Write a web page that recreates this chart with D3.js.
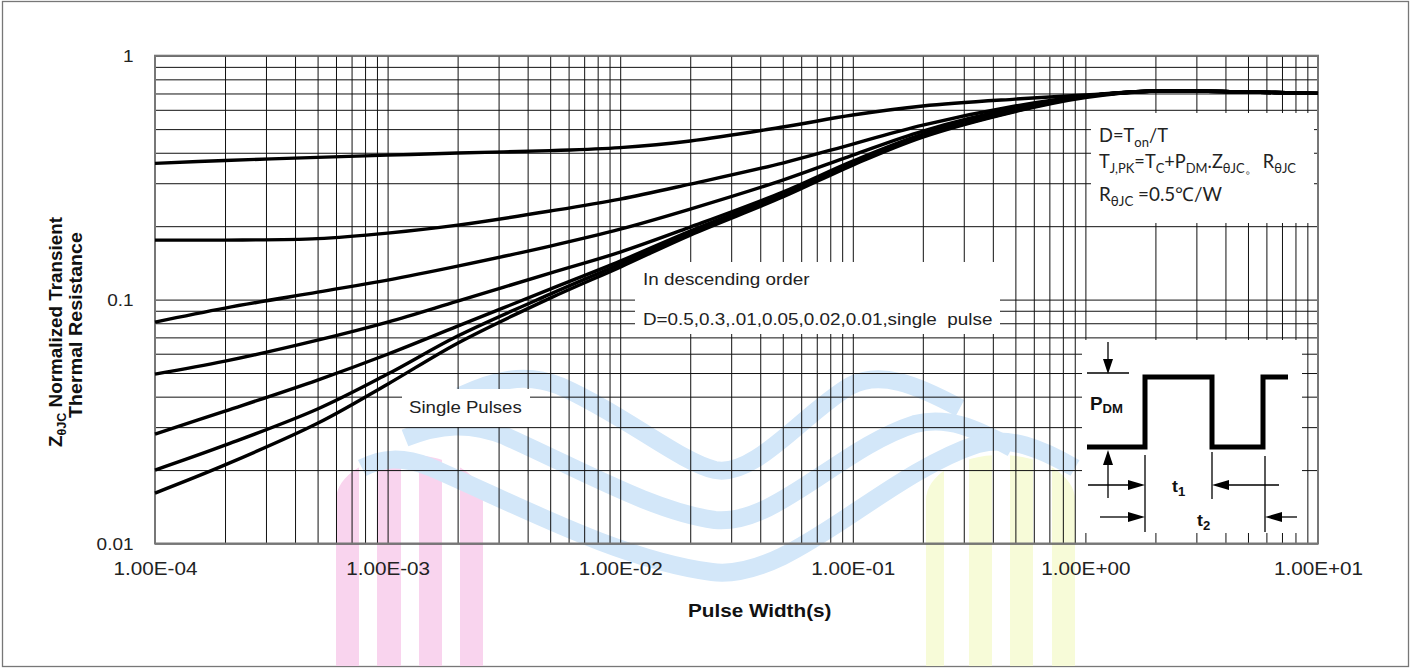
<!DOCTYPE html>
<html>
<head>
<meta charset="utf-8">
<script src="https://cdn.jsdelivr.net/npm/d3@7"></script>
<style>
  body { margin: 0; background: #fff; }
  svg { display: block; }
</style>
</head>
<body>
<svg id="chart" width="1413" height="669"></svg>
<script>
// Pulse widths (s) at which the curves are sampled
const pulseWidth = [1e-4, 2e-4, 5e-4, 1e-3, 2e-3, 5e-3, 1e-2, 2e-2, 5e-2, 1e-1, 2e-1, 5e-1, 1, 2, 5, 10];
// Normalized transient thermal resistance, one series per duty cycle
const zD050 = [0.362, 0.372, 0.383, 0.391, 0.399, 0.408, 0.420, 0.447, 0.510, 0.571, 0.622, 0.664, 0.690, 0.7165, 0.7096, 0.701];
const zD030 = [0.1754, 0.1754, 0.1779, 0.1874, 0.2020, 0.2307, 0.2583, 0.2976, 0.3630, 0.4344, 0.5196, 0.6217, 0.6835, 0.7165, 0.7096, 0.701];
const zD010 = [0.0809, 0.0923, 0.1073, 0.1202, 0.1372, 0.1658, 0.1945, 0.2351, 0.3091, 0.3914, 0.4911, 0.6103, 0.6803, 0.7165, 0.7096, 0.701];
const zD005 = [0.0495, 0.0559, 0.0682, 0.0809, 0.0986, 0.1284, 0.1566, 0.1983, 0.2760, 0.3699, 0.4773, 0.5988, 0.6803, 0.7165, 0.7096, 0.701];
const zD002 = [0.0281, 0.0349, 0.0468, 0.0597, 0.0778, 0.1104, 0.1438, 0.1910, 0.2708, 0.3630, 0.4728, 0.5960, 0.6803, 0.7165, 0.7096, 0.701];
const zD001 = [0.0200, 0.0253, 0.0356, 0.0495, 0.0709, 0.1053, 0.1398, 0.1874, 0.2683, 0.3596, 0.4684, 0.5932, 0.6803, 0.7165, 0.7096, 0.701];
const zSingle = [0.0161, 0.0210, 0.0311, 0.0450, 0.0663, 0.1014, 0.1359, 0.1838, 0.2633, 0.3561, 0.4638, 0.5904, 0.6740, 0.7165, 0.7096, 0.701];
const dutyLabels = ["0.5", "0.3", "0.1", "0.05", "0.02", "0.01", "single pulse"];
const allSeries = [zD050, zD030, zD010, zD005, zD002, zD001, zSingle];

// Axis ticks
const xTickValues = [1e-4, 1e-3, 1e-2, 1e-1, 1, 10];
const yTickValues = [0.01, 0.1, 1];
const yTickLabels = ["0.01", "0.1", "1"];

const svg = d3.select("#chart");
const SX = 1.15;   // horizontal text stretch used throughout the sheet
const L = 155, R = 1318, T = 55.7, B = 543.5;

const x = d3.scaleLog().domain([1e-4, 10]).range([L, R]);
const y = d3.scaleLog().domain([0.01, 1]).range([B, T]);

// ---------- outer frame ----------
svg.append("rect").attr("x", 2.5).attr("y", 1.5).attr("width", 1406).attr("height", 665)
  .attr("fill", "#fff").attr("stroke", "#777").attr("stroke-width", 1.3);

// ---------- background logo ----------
const logo = svg.append("g").attr("class", "logo");
const defs = svg.append("defs");
function archStripes(id, x0, x1, top, color, stripes) {
  const rx = (x1 - x0) / 2, ry = 45;
  defs.append("clipPath").attr("id", id).append("path")
    .attr("d", `M${x0},666 V${top + ry} A${rx},${ry} 0 0 1 ${x1},${top + ry} V666 Z`);
  logo.append("g").attr("clip-path", `url(#${id})`)
    .selectAll("rect").data(stripes).join("rect")
    .attr("x", d => d[0]).attr("y", top - 2)
    .attr("width", d => d[1] - d[0]).attr("height", 670 - top)
    .attr("fill", color);
}
archStripes("archPink", 336, 483, 455, "#f9d4ee", [[336, 359], [377, 401], [419, 442], [460, 483]]);
archStripes("archYellow", 926, 1075, 455, "#f7fbd8", [[926, 944], [969, 992], [1010, 1033], [1052, 1075]]);
const waveColor = "#d3e7f9";
[
  "M460,396 C495,380 525,372 560,386 C625,415 680,462 715,470 C755,478 805,412 850,386 C880,370 915,384 960,408",
  "M405,438 C440,424 470,422 505,436 C585,472 655,512 715,520 C775,526 840,448 915,424 C948,416 975,428 1012,448",
  "M362,468 C382,458 402,456 430,467 C520,506 620,560 712,572 C790,582 880,476 978,444 C1010,436 1040,448 1075,468"
].forEach(d => logo.append("path").attr("d", d).attr("fill", "none")
  .attr("stroke", waveColor).attr("stroke-width", 18).attr("stroke-linecap", "butt"));

// ---------- grid ----------
const minorX = [];
for (let e = -4; e <= 0; e++) for (let m = 1; m <= 9; m++) minorX.push(+(m * Math.pow(10, e)).toPrecision(3));
minorX.push(10);
const minorY = [];
for (let e = -2; e <= -1; e++) for (let m = 1; m <= 9; m++) minorY.push(+(m * Math.pow(10, e)).toPrecision(3));
minorY.push(1);

const gridX = svg.append("g").attr("transform", `translate(0,${B})`)
  .call(d3.axisBottom(x).tickValues(minorX).tickSize(-(B - T)).tickFormat(""));
const gridY = svg.append("g").attr("transform", `translate(${L},0)`)
  .call(d3.axisLeft(y).tickValues(minorY).tickSize(-(R - L)).tickFormat(""));
[gridX, gridY].forEach(g => {
  g.select(".domain").remove();
  g.selectAll("line").attr("stroke", "#111").attr("stroke-width", 1);
});

// ---------- white label boxes over the grid ----------
const boxes = [
  [1091, 113, 1314, 223],   // formula block
  [635, 262, 1000, 334],    // ordering note
  [402, 389, 530, 427],     // single pulse note
  [1082, 340, 1302, 533]    // pulse diagram
];
svg.append("g").selectAll("rect").data(boxes).join("rect")
  .attr("x", d => d[0]).attr("y", d => d[1])
  .attr("width", d => d[2] - d[0]).attr("height", d => d[3] - d[1])
  .attr("fill", "#fff");

// ---------- plot frame ----------
svg.append("rect").attr("x", L).attr("y", T).attr("width", R - L).attr("height", B - T)
  .attr("fill", "none").attr("stroke", "#777").attr("stroke-width", 2);

// ---------- curves ----------
const line = d3.line().x(d => x(d[0])).y(d => y(d[1])).curve(d3.curveCatmullRom.alpha(0.5));
svg.append("g").selectAll("path").data(allSeries).join("path")
  .attr("d", s => line(pulseWidth.map((p, i) => [p, s[i]])))
  .attr("fill", "none").attr("stroke", "#000").attr("stroke-width", 3.4)
  .attr("stroke-linejoin", "round");

// ---------- axes labels ----------
const fmtE = v => {
  const e = Math.round(Math.log10(v));
  return "1.00E" + (e < 0 ? "-" : "+") + String(Math.abs(e)).padStart(2, "0");
};
const xAxis = svg.append("g").attr("transform", `translate(0,${B})`)
  .call(d3.axisBottom(x).tickValues(xTickValues).tickSize(0).tickFormat(fmtE));
xAxis.select(".domain").remove();
xAxis.selectAll("text")
  .attr("y", 32).attr("dy", 0)
  .attr("transform", `scale(${SX},1)`)
  .attr("font-family", "Liberation Sans, Arial, sans-serif")
  .attr("font-size", 18).attr("fill", "#222");

const yAxis = svg.append("g").attr("transform", `translate(${L},0)`)
  .call(d3.axisLeft(y).tickValues(yTickValues).tickSize(0)
    .tickFormat((d, i) => yTickLabels[i]));
yAxis.select(".domain").remove();
yAxis.selectAll("text")
  .attr("x", -21.5 / SX).attr("dy", "0.36em")
  .attr("transform", `scale(${SX},1)`)
  .attr("font-family", "Liberation Sans, Arial, sans-serif")
  .attr("font-size", 16.5).attr("fill", "#222");

// stretched text helper
function stext(px, py, size, opts = {}) {
  return svg.append("g").attr("transform", `translate(${px},${py}) scale(${opts.sx || SX},1)`)
    .append("text")
    .attr("font-family", opts.family || "Liberation Sans, Arial, sans-serif")
    .attr("font-size", size)
    .attr("font-weight", opts.weight || "normal")
    .attr("text-anchor", opts.anchor || "start")
    .attr("fill", opts.fill || "#222");
}

stext(688, 617, 18, { weight: "bold", fill: "#111" }).text("Pulse Width(s)");

// y axis title (two rotated lines)
const yt1 = svg.append("text")
  .attr("transform", "translate(62,447) rotate(-90)")
  .attr("font-family", "Liberation Sans, Arial, sans-serif")
  .attr("font-size", 18).attr("font-weight", "bold").attr("fill", "#111")
  .attr("textLength", 230).attr("lengthAdjust", "spacingAndGlyphs");
yt1.append("tspan").text("Z");
yt1.append("tspan").attr("font-size", 12).attr("dy", 4).text("θJC");
yt1.append("tspan").attr("dy", -4).text(" Normalized Transient");
svg.append("text")
  .attr("transform", "translate(82,418) rotate(-90)")
  .attr("font-family", "Liberation Sans, Arial, sans-serif")
  .attr("font-size", 18).attr("font-weight", "bold").attr("fill", "#111")
  .attr("textLength", 186).attr("lengthAdjust", "spacingAndGlyphs")
  .text("Thermal Resistance");

// ---------- notes ----------
stext(643, 285, 16.4).text("In descending order");
stext(643, 325, 16.4).text("D=" + dutyLabels.slice(0, 2).join(",") + ",.01," + dutyLabels.slice(3, 6).join(",") + ",single\u00a0 pulse");
stext(409, 413, 16.2).text("Single Pulses");

// formula block
const fam = "Lato, 'Open Sans', sans-serif";
function subLine(py, len, parts) {
  const t = svg.append("text").attr("x", 1099).attr("y", py)
    .attr("font-family", fam).attr("font-size", 19).attr("fill", "#222")
    .attr("textLength", len).attr("lengthAdjust", "spacingAndGlyphs");
  let shifted = false;
  parts.forEach(([s, sub]) => {
    const ts = t.append("tspan").text(s);
    if (sub) ts.attr("font-size", 13.5);
    if (sub && !shifted) { ts.attr("dy", 5); shifted = true; }
    else if (!sub && shifted) { ts.attr("dy", -5); shifted = false; }
  });
  return t;
}
subLine(142, 69, [["D=T"], ["on", 1], ["/T"]]);
subLine(168, 197, [["T"], ["J,PK", 1], ["=T"], ["C", 1], ["+P"], ["DM", 1], [".Z"], ["θJC。", 1], [" R"], ["θJC", 1]]);
subLine(200.5, 123, [["R"], ["θJC", 1], [" =0.5℃/W"]]);

// ---------- pulse diagram ----------
const pd = svg.append("g");
pd.append("path")
  .attr("d", "M1087,447 H1145 V377 H1212 V447 H1263 V377 H1288")
  .attr("fill", "none").attr("stroke", "#000").attr("stroke-width", 5).attr("stroke-linejoin", "miter");
const thin = [
  [1108, 342, 1108, 362], [1087, 373, 1129, 373],
  [1108, 461, 1108, 498],
  [1088, 485, 1132, 485], [1226, 485, 1279, 485],
  [1100, 517, 1132, 517], [1278, 517, 1297, 517],
  [1145, 455, 1145, 532], [1212, 452, 1212, 499], [1265, 456, 1265, 532]
];
pd.selectAll("line").data(thin).join("line")
  .attr("x1", d => d[0]).attr("y1", d => d[1]).attr("x2", d => d[2]).attr("y2", d => d[3])
  .attr("stroke", "#000").attr("stroke-width", 1.3);
const heads = [
  "M1108,374 L1103,359 L1113,359 Z",
  "M1108,450 L1103,465 L1113,465 Z",
  "M1145,485 L1128,480 L1128,490 Z",
  "M1212,485 L1229,480 L1229,490 Z",
  "M1145,517 L1128,512 L1128,522 Z",
  "M1265,517 L1282,512 L1282,522 Z"
];
pd.selectAll("path.head").data(heads).join("path").attr("class", "head")
  .attr("d", d => d).attr("fill", "#000");
const pdm = stext(1090, 410, 18, { weight: "bold", fill: "#111", sx: 1.05 });
pdm.append("tspan").text("P");
pdm.append("tspan").attr("font-size", 12.5).attr("dy", 3).text("DM");
const t1 = stext(1172, 492, 17, { weight: "bold", fill: "#111", sx: 1.05 });
t1.append("tspan").text("t");
t1.append("tspan").attr("font-size", 12.5).attr("dy", 4).text("1");
const t2 = stext(1197, 526, 17, { weight: "bold", fill: "#111", sx: 1.05 });
t2.append("tspan").text("t");
t2.append("tspan").attr("font-size", 12.5).attr("dy", 4).text("2");
</script>
</body>
</html>
